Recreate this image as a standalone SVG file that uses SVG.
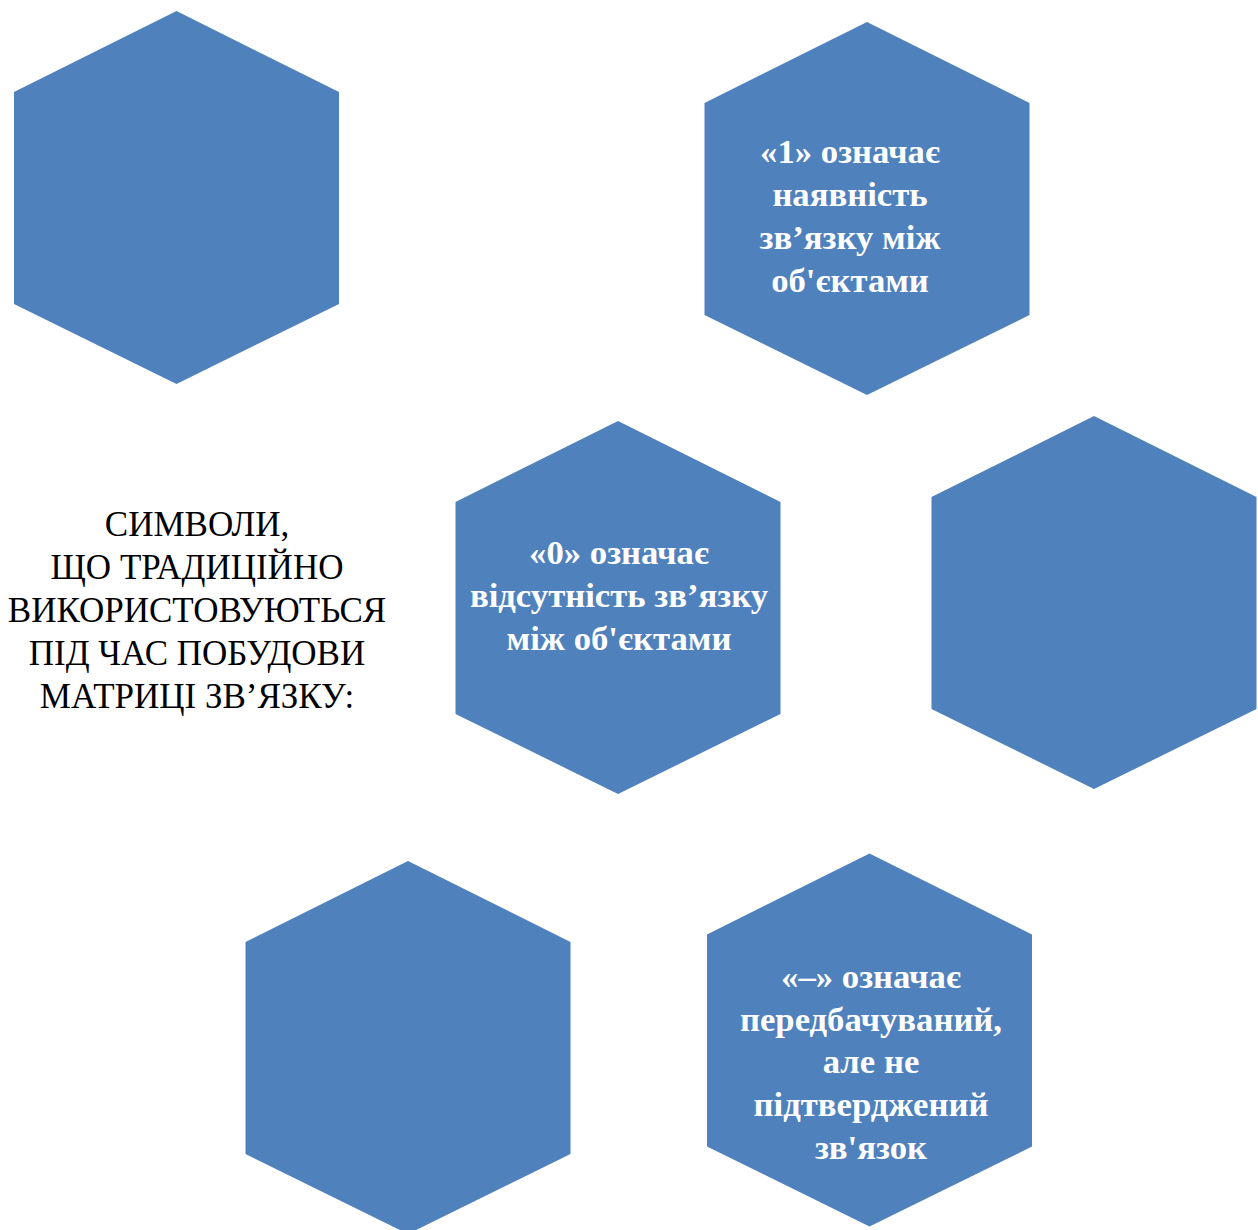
<svg xmlns="http://www.w3.org/2000/svg" width="1258" height="1230" viewBox="0 0 1258 1230">
<style>
.hex{fill:#4F81BD;stroke:none}
.ht{font-family:"Liberation Serif","Times New Roman",serif;font-weight:bold;font-size:34.7px;fill:#FFFFFF;text-anchor:middle}
.lt{font-family:"Liberation Serif","Times New Roman",serif;font-size:35px;fill:#000000;text-anchor:middle}
</style>
<defs>
<polygon id="hx" points="162.5,0 325,81 325,293 162.5,373 0,293 0,81"/>
</defs>
<rect width="1258" height="1230" fill="#FFFFFF"/>
<g id="title">
<text class="lt" x="197" y="536">СИМВОЛИ,</text>
<text class="lt" x="197" y="579">ЩО ТРАДИЦІЙНО</text>
<text class="lt" x="197" y="622">ВИКОРИСТОВУЮТЬСЯ</text>
<text class="lt" x="197" y="665">ПІД ЧАС ПОБУДОВИ</text>
<text class="lt" x="197" y="708">МАТРИЦІ ЗВ’ЯЗКУ:</text>
</g>
<g id="hex1"><use href="#hx" class="hex" x="14" y="11"/></g>
<g id="hex2"><use href="#hx" class="hex" x="704.5" y="22"/>
<text class="ht" x="850" y="163">«1» означає</text>
<text class="ht" x="850" y="206">наявність</text>
<text class="ht" x="850" y="249">зв’язку між</text>
<text class="ht" x="850" y="292">об'єктами</text>
</g>
<g id="hex3"><use href="#hx" class="hex" x="455.5" y="421"/>
<text class="ht" x="619" y="564">«0» означає</text>
<text class="ht" x="619" y="607">відсутність зв’язку</text>
<text class="ht" x="619" y="650">між об'єктами</text>
</g>
<g id="hex4"><use href="#hx" class="hex" x="931.5" y="416"/></g>
<g id="hex5"><use href="#hx" class="hex" x="245.5" y="861"/></g>
<g id="hex6"><use href="#hx" class="hex" x="707" y="853.5"/>
<text class="ht" x="871" y="988">«–» означає</text>
<text class="ht" x="871" y="1031">передбачуваний,</text>
<text class="ht" x="871" y="1073">але не</text>
<text class="ht" x="871" y="1116">підтверджений</text>
<text class="ht" x="871" y="1159">зв'язок</text>
</g>
<g id="connectors"/>
</svg>
